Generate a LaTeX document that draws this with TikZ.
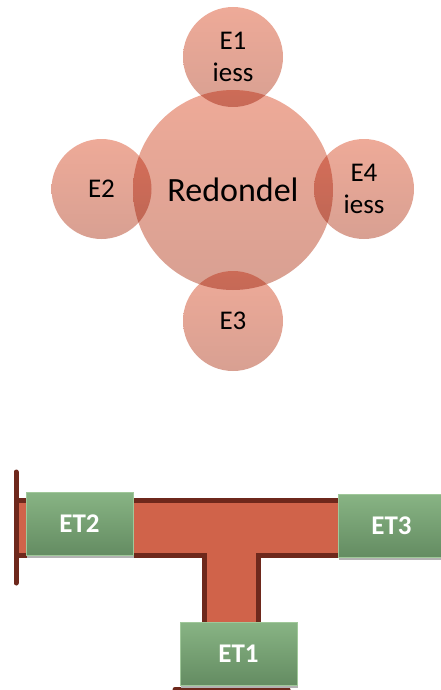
\documentclass[tikz,border=0pt]{standalone}
\usepackage{fontspec}
\setmainfont{Carlito}
\usetikzlibrary{shadows}

\definecolor{zonetop}{RGB}{238,170,152}
\definecolor{zonebot}{RGB}{216,160,146}
\definecolor{pipefill}{RGB}{208,99,74}
\definecolor{pipeline}{RGB}{110,40,28}
\definecolor{boxtop}{RGB}{136,180,132}
\definecolor{boxbot}{RGB}{100,140,98}
\definecolor{boxrim}{RGB}{160,200,154}

\tikzset{
  zone/.style={circle, inner sep=0pt, top color=zonetop, bottom color=zonebot,
    blend mode=multiply, align=center, font=\fontsize{27}{32}\selectfont},
  tank/.style={rectangle, inner sep=0pt, minimum height=63pt, top color=boxtop,
    bottom color=boxbot, draw=boxrim, line width=0.6pt, text=white,
    font=\fontsize{27}{30}\bfseries,
    drop shadow={shadow xshift=1pt, shadow yshift=-3pt, fill=black!30, opacity=1}},
  pipe/.style={draw=pipeline, line width=5pt},
  pipecap/.style={draw=pipeline, line width=5pt, line cap=round},
}

\begin{document}
\begin{tikzpicture}[x=1pt,y=-1pt]
\useasboundingbox (0,0) rectangle (441,690);
\clip (0,0) rectangle (441,690);

% roundabout and its four entries
\node[zone, minimum size=200pt, font=\fontsize{34}{40}\selectfont] (redondel) at (233,190) {Redondel};
\node[zone, minimum size=100pt] (e1) at (233,57) {E1\\iess};
\node[zone, minimum size=100pt] (e2) at (101.5,189) {E2};
\node[zone, minimum size=100pt] (e4) at (364,189) {E4\\iess};
\node[zone, minimum size=100pt] (e3) at (233,321) {E3};

% T junction
\fill[pipefill] (16,500.5) rectangle (450,555.5);
\fill[pipefill] (204.5,550) rectangle (258,700);
\draw[pipe] (16,500.5) -- (450,500.5);
\draw[pipe] (450,555.5) -- (258,555.5) -- (258,700);
\draw[pipe] (204.5,700) -- (204.5,555.5) -- (16,555.5);
\draw[pipecap] (16,472) -- (16,583);
\draw[pipecap] (175,689.5) -- (288,689.5);

\node[tank, minimum width=107pt] (et2) at (79.5,523.5) {ET2};
\node[tank, minimum width=107pt] (et3) at (391.5,525.5) {ET3};
\node[tank, minimum width=117pt] (et1) at (238.5,653.5) {ET1};
\end{tikzpicture}
\end{document}
